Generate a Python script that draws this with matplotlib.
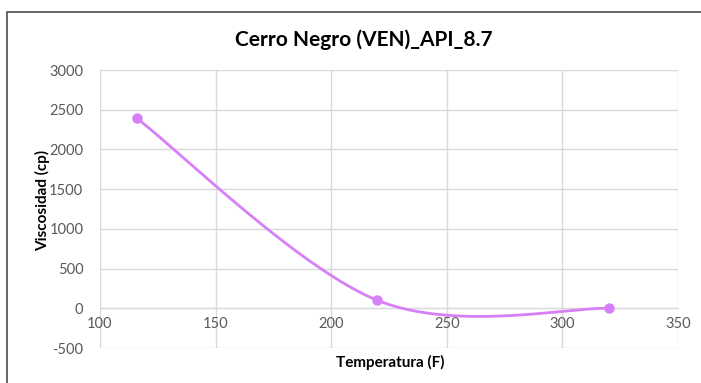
import numpy as np
import matplotlib
matplotlib.use("Agg")
import matplotlib.pyplot as plt
from matplotlib.patches import Rectangle

# data
temperatura = [116, 220, 320]
viscosidad = [2390, 100, 0]
x_ticks = [100, 150, 200, 250, 300, 350]
y_ticks = [-500, 0, 500, 1000, 1500, 2000, 2500, 3000]

LINE_COLOR = "#d77ff7"
TEXT_GRAY = "#595959"
GRID_GRAY = "#d9d9d9"


def excel_smooth(xs, ys, n=80):
    # Excel-like smoothed line: cubic Bezier segments with Catmull-Rom control points
    pts = np.column_stack([xs, ys]).astype(float)
    out = [pts[0]]
    t = np.linspace(0, 1, n)[1:, None]
    for i in range(len(pts) - 1):
        p0 = pts[max(i - 1, 0)]
        p1 = pts[i]
        p2 = pts[i + 1]
        p3 = pts[min(i + 2, len(pts) - 1)]
        c1 = p1 + (p2 - p0) / 6.0
        c2 = p2 - (p3 - p1) / 6.0
        seg = ((1 - t) ** 3) * p1 + 3 * ((1 - t) ** 2) * t * c1 \
            + 3 * (1 - t) * t ** 2 * c2 + t ** 3 * p2
        out.extend(seg)
    out = np.array(out)
    return out[:, 0], out[:, 1]


plt.rcParams['font.family'] = ['Lato', 'DejaVu Sans']
plt.rcParams['axes.unicode_minus'] = False

fig = plt.figure(figsize=(7.01, 3.83), dpi=100)
W, H = 701, 383

# outer chart frame (left/top visible, cut off at right/bottom)
fig.patches.append(Rectangle((7 / W, -0.05), 1.1, (H - 12) / H + 0.05,
                             transform=fig.transFigure, fill=False,
                             edgecolor="#5a5a5a", linewidth=1.3))

ax = fig.add_axes([100 / W, (H - 348) / H, 578 / W, 278 / H])

sx, sy = excel_smooth(temperatura, viscosidad)
ax.plot(sx, sy, color=LINE_COLOR, linewidth=2, solid_capstyle="round", zorder=3)
ax.plot(temperatura, viscosidad, "o", color=LINE_COLOR, markersize=6.5, zorder=4)

ax.set_xlim(100, 350)
ax.set_ylim(-500, 3000)
ax.set_xticks(x_ticks)
ax.set_yticks(y_ticks)
ax.grid(True, color=GRID_GRAY, linewidth=1)
ax.set_axisbelow(True)

for side in ["top", "right", "left"]:
    ax.spines[side].set_visible(False)
# x labels sit under the y=0 line like in Excel
ax.spines["bottom"].set_position(("data", 0))
ax.spines["bottom"].set_color(GRID_GRAY)
ax.tick_params(axis="both", length=0, labelsize=10.5, labelcolor=TEXT_GRAY)
ax.tick_params(axis="x", pad=6)
ax.tick_params(axis="y", pad=12)

fig.text(364 / W, 1 - 40 / H, "Cerro Negro (VEN)_API_8.7", ha="center",
         va="center", fontsize=15, fontweight="bold", color="black")
fig.text(390 / W, 1 - 362 / H, "Temperatura (F)", ha="center", va="center",
         fontsize=11, fontweight="bold", color="black")
fig.text(43 / W, 1 - 200 / H, "Viscosidad (cp)", ha="center", va="center",
         rotation=90, fontsize=11, fontweight="bold", color="black")

fig.savefig("out.png", dpi=100)
